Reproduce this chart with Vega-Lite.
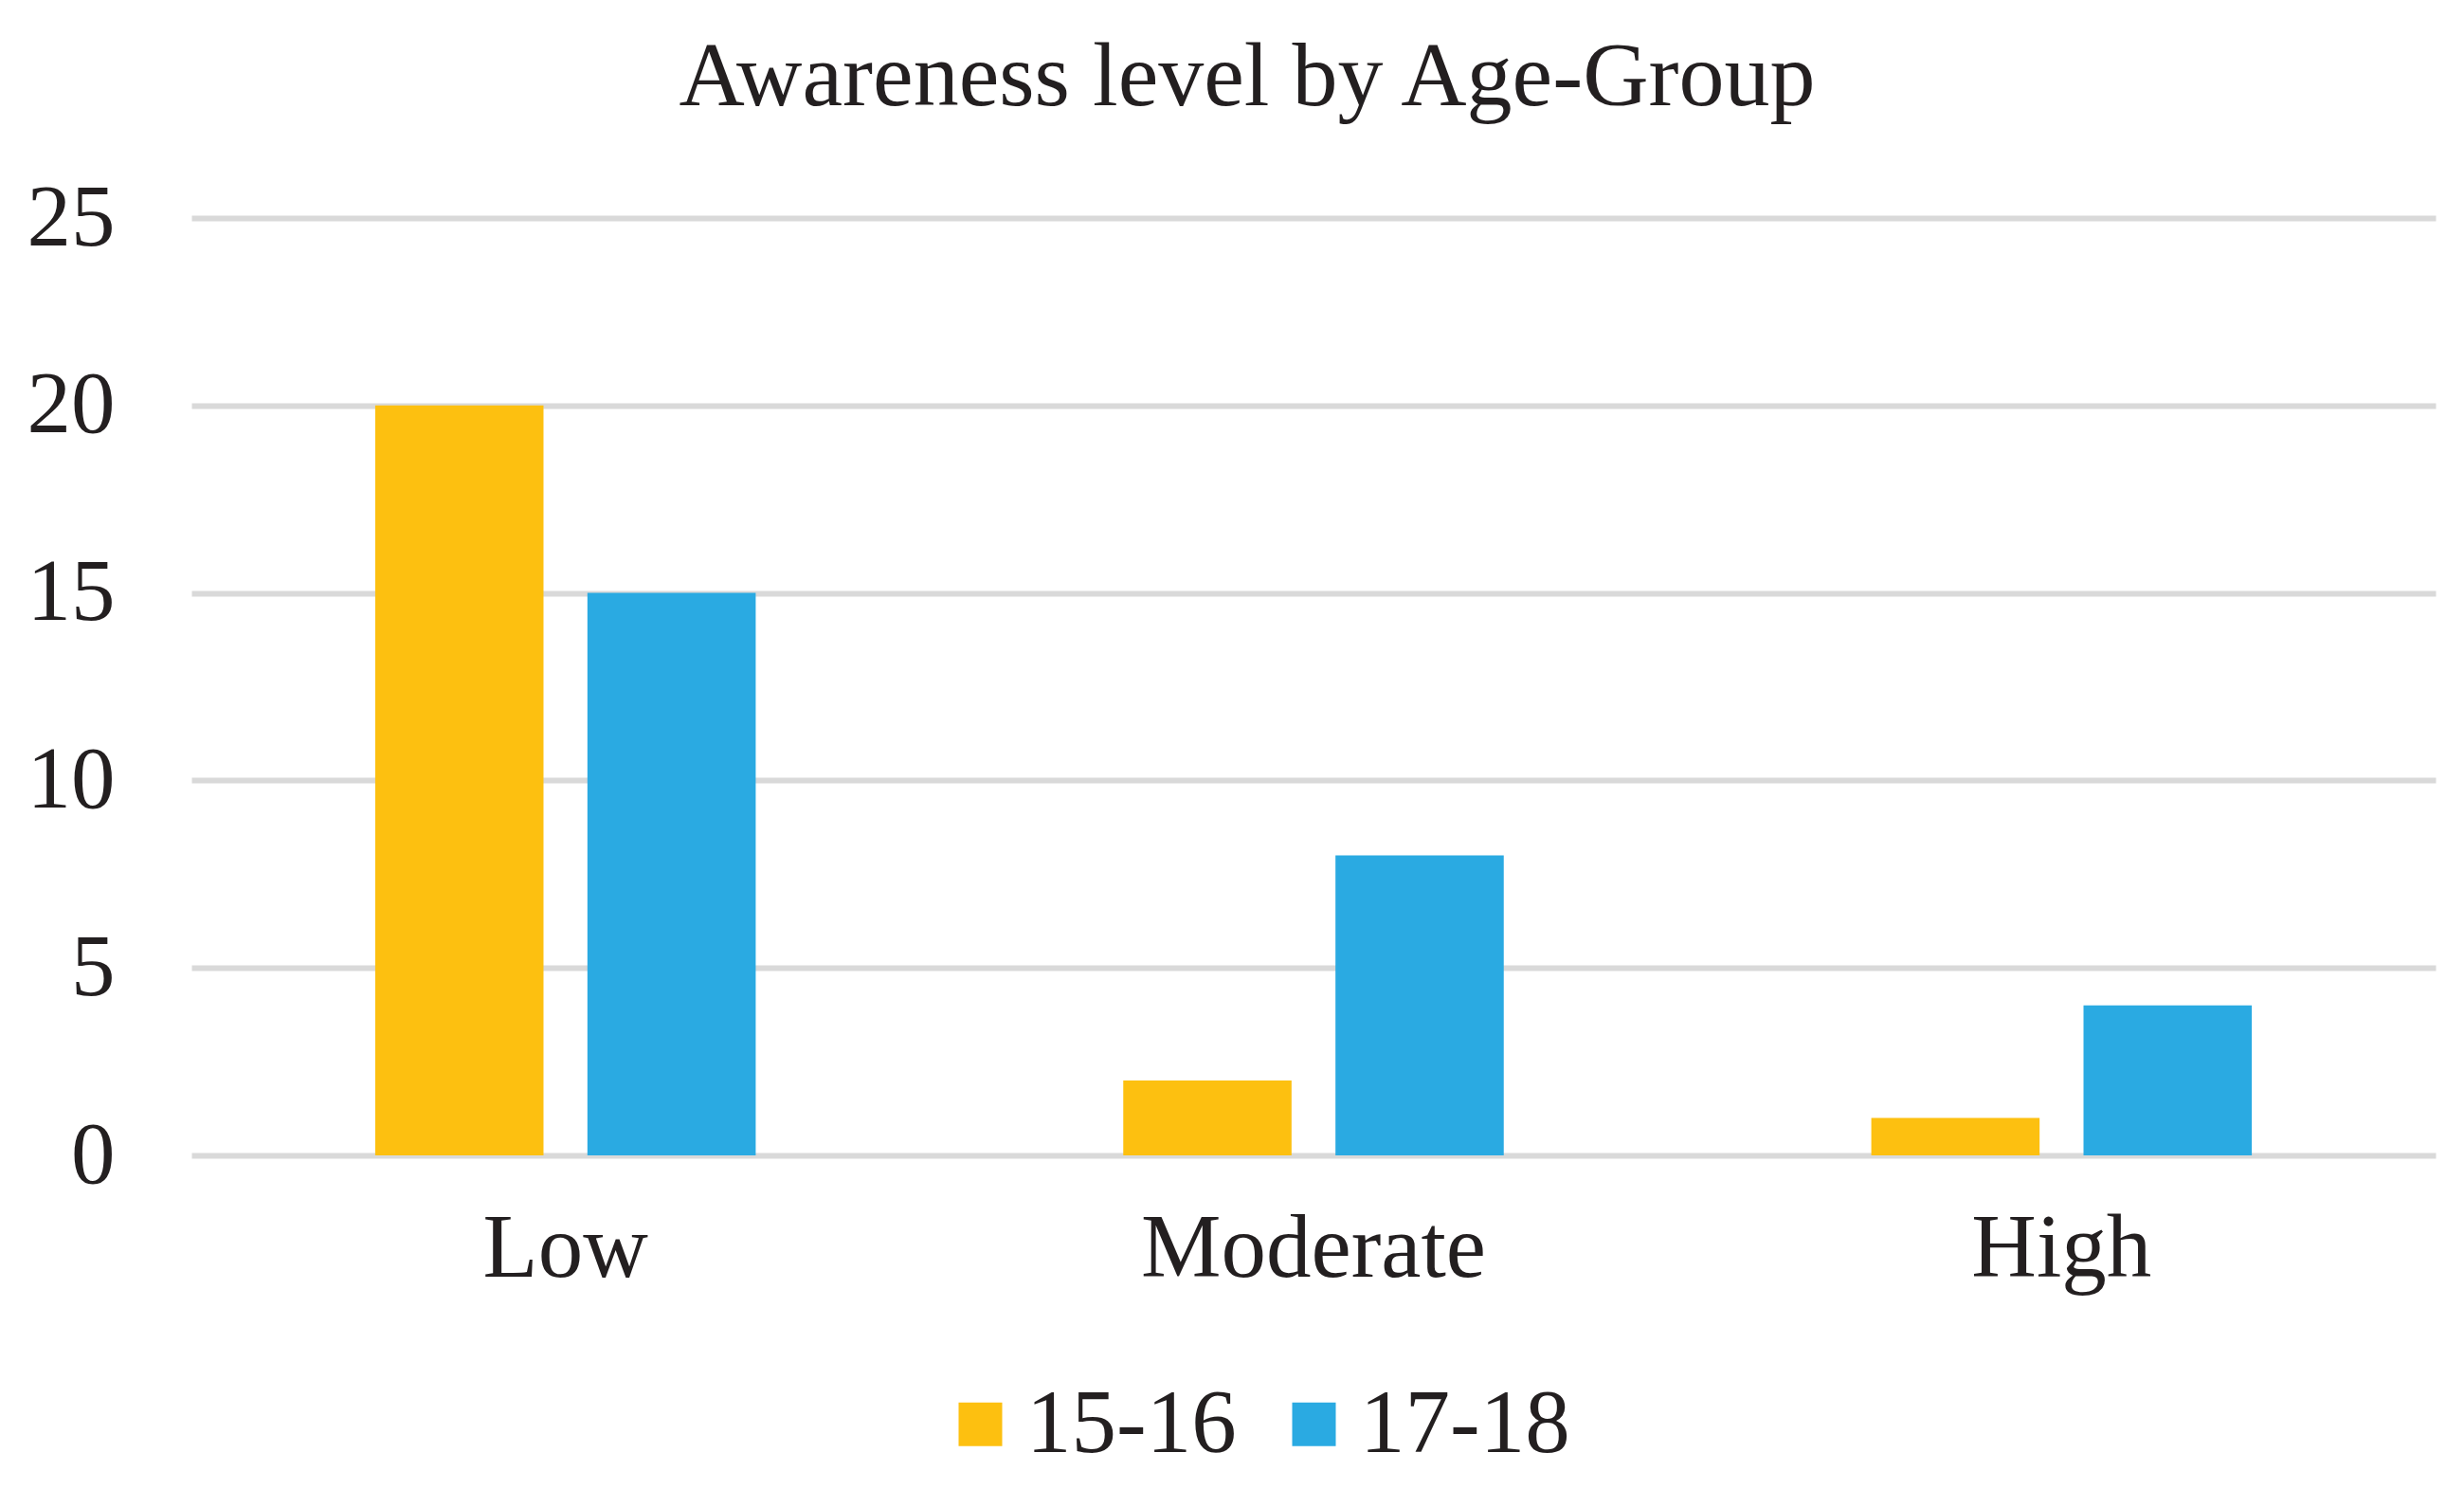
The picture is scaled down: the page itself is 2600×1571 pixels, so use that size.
{
  "$schema": "https://vega.github.io/schema/vega-lite/v6.json",
  "autosize": {"type": "none"},
  "padding": {"left": 202, "top": 230, "right": 30, "bottom": 352},
  "width": 2368,
  "height": 989,
  "background": "white",
  "title": {
    "text": "Awareness level by Age-Group",
    "anchor": "middle",
    "dx": -70,
    "baseline": "alphabetic",
    "offset": -23,
    "font": "Liberation Serif",
    "fontSize": 96,
    "fontWeight": "normal",
    "color": "#231F20",
    "limit": 0
  },
  "data": {
    "values": [
      {"level": "Low", "group": "15-16", "count": 20},
      {"level": "Low", "group": "17-18", "count": 15},
      {"level": "Moderate", "group": "15-16", "count": 2},
      {"level": "Moderate", "group": "17-18", "count": 8},
      {"level": "High", "group": "15-16", "count": 1},
      {"level": "High", "group": "17-18", "count": 4}
    ]
  },
  "mark": {"type": "bar"},
  "encoding": {
    "x": {
      "field": "level",
      "type": "nominal",
      "sort": ["Low", "Moderate", "High"],
      "scale": {"paddingInner": 0, "paddingOuter": 0},
      "axis": {
        "title": null,
        "labelAngle": 0,
        "domain": false,
        "ticks": false,
        "labelPadding": 52,
        "labelLimit": 0,
        "labelFont": "Liberation Serif",
        "labelFontSize": 95,
        "labelColor": "#231F20",
        "labelBaseline": "top"
      }
    },
    "xOffset": {
      "field": "group",
      "type": "nominal",
      "scale": {"paddingInner": 0.207, "paddingOuter": 0.866}
    },
    "y": {
      "field": "count",
      "type": "quantitative",
      "scale": {"domain": [0, 25], "nice": false},
      "axis": {
        "title": null,
        "values": [0, 5, 10, 15, 20, 25],
        "domain": false,
        "ticks": false,
        "grid": true,
        "gridColor": "#D9D9D9",
        "gridWidth": 6,
        "labelPadding": 81,
        "labelFont": "Liberation Serif",
        "labelFontSize": 93,
        "labelColor": "#231F20"
      }
    },
    "color": {
      "field": "group",
      "type": "nominal",
      "scale": {"domain": ["15-16", "17-18"], "range": ["#FDC010", "#2AAAE2"]},
      "legend": {
        "title": null,
        "orient": "none",
        "direction": "horizontal",
        "legendX": 785,
        "legendY": 1225,
        "symbolType": "square",
        "symbolSize": 2116,
        "symbolStrokeWidth": 0,
        "labelFont": "Liberation Serif",
        "labelFontSize": 95,
        "labelLimit": 0,
        "labelColor": "#231F20",
        "labelOffset": 1,
        "columnPadding": 34
      }
    }
  },
  "config": {
    "view": {"stroke": null}
  }
}
